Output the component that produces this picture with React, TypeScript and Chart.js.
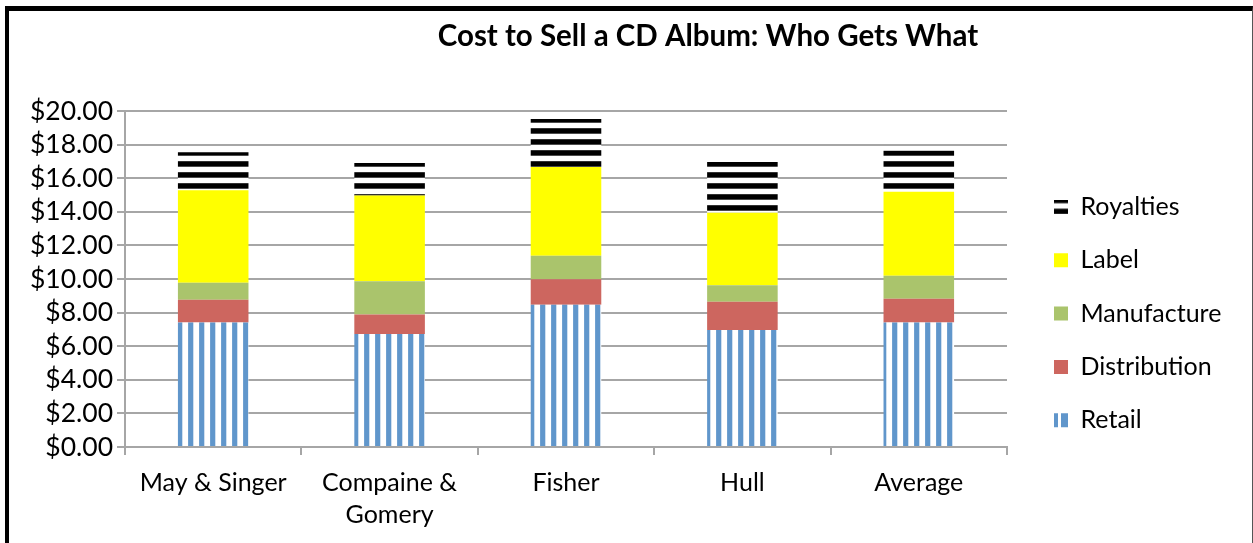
import React, { useEffect, useRef } from 'react';
import { Chart, registerables } from 'chart.js';

Chart.register(...registerables);

// ---- data ----
const categories: (string | string[])[] = ['May & Singer', ['Compaine &', 'Gomery'], 'Fisher', 'Hull', 'Average'];
const seriesNames = ['Retail', 'Distribution', 'Manufacture', 'Label', 'Royalties'];
const retail = [7.41, 6.73, 8.46, 6.97, 7.41];
const distribution = [1.35, 1.15, 1.53, 1.67, 1.41];
const manufacture = [1.01, 1.99, 1.39, 0.99, 1.37];
const label = [5.52, 5.1, 5.28, 4.31, 5.0];
const royalties = [2.25, 1.93, 2.86, 3.02, 2.45];
const yTicks = [0, 2, 4, 6, 8, 10, 12, 14, 16, 18, 20];
const titleText = 'Cost to Sell a CD Album: Who Gets What';

// ---- styles ----
const W = 1253;
const H = 543;
const FONT = 'Lato, sans-serif';
const XTICK_SIZE = 25;
const YTICK_SIZE = 26.5;
const LEGEND_SIZE = 25;
const TITLE_SIZE = 29.5;
const GRID = '#A6A6A6';
const BLUE = '#6096CB';
const LEGEND_PAD = 28.3;
const LEGEND_BOX = 14;
const LEGEND_BOX_X = 1054;
const PLOT_TOP = 111;
const PLOT_BOTTOM = 447;
const PLOT_RIGHT = 1007;
const FIRST_LEGEND_Y = 207;

function stripePattern(kind: 'v' | 'h', phase = 0): CanvasPattern | string {
  const c = document.createElement('canvas');
  c.width = 11;
  c.height = 11;
  const g = c.getContext('2d');
  if (!g) return BLUE;
  g.fillStyle = '#FFFFFF';
  g.fillRect(0, 0, 11, 11);
  if (kind === 'v') {
    g.fillStyle = BLUE;
    g.fillRect(1.1, 0, 5.2, 11);
  } else {
    g.fillStyle = '#000000';
    g.fillRect(0, 7.2, 11, 3.8);
    g.fillRect(0, 0, 11, 1.7);
  }
  const p = g.createPattern(c, 'repeat');
  if (!p) return '#000';
  if (phase && typeof DOMMatrix !== 'undefined') {
    p.setTransform(kind === 'v' ? new DOMMatrix().translate(phase, 0) : new DOMMatrix().translate(0, phase));
  }
  return p;
}

function legendRetailPattern(): CanvasPattern | string {
  const c = document.createElement('canvas');
  c.width = 14;
  c.height = 14;
  const g = c.getContext('2d');
  if (!g) return BLUE;
  g.fillStyle = '#FFFFFF';
  g.fillRect(0, 0, 14, 14);
  g.fillStyle = BLUE;
  g.fillRect(0, 0, 4, 14);
  g.fillRect(7, 0, 7, 14);
  const p = g.createPattern(c, 'repeat');
  if (!p) return BLUE;
  if (typeof DOMMatrix !== 'undefined') p.setTransform(new DOMMatrix().translate(LEGEND_BOX_X % 14, 0));
  return p;
}

const titlePlugin = {
  id: 'placedTitle',
  afterDraw(chart: any) {
    const ctx = chart.ctx;
    ctx.save();
    ctx.font = `bold ${TITLE_SIZE}px ${FONT}`;
    ctx.fillStyle = '#000';
    ctx.textAlign = 'center';
    ctx.textBaseline = 'middle';
    ctx.fillText(titleText, 708, 36);
    ctx.restore();
  },
};

export default function App() {
  const ref = useRef<HTMLCanvasElement | null>(null);

  useEffect(() => {
    const canvas = ref.current;
    if (!canvas) return;

    const m = document.createElement('canvas').getContext('2d')!;
    m.font = `${LEGEND_SIZE}px ${FONT}`;
    const maxText = Math.max(...seriesNames.map((n) => m.measureText(n).width));
    const legendWidth = LEGEND_PAD + LEGEND_BOX + LEGEND_SIZE / 2 + maxText + 10;
    const legendLeft = LEGEND_BOX_X - LEGEND_PAD;
    const padRight = Math.max(0, W - legendLeft - legendWidth);
    const gap = legendLeft - PLOT_RIGHT;

    // vertical placement of the legend column (align: center)
    const itemH = Math.max(LEGEND_SIZE, LEGEND_BOX);
    const colH = seriesNames.length * (itemH + LEGEND_PAD);
    const cursorY = FIRST_LEGEND_Y - itemH / 2;
    const padTop = 2 * cursorY - LEGEND_PAD + colH - H;
    const topGap = PLOT_TOP - padTop;

    const retailPat = stripePattern('v');
    const royPat = stripePattern('h');
    const legendRoyPat = stripePattern('h', 3.5);
    const legendRetPat = legendRetailPattern();

    const chart = new Chart(canvas, {
      type: 'bar',
      data: {
        labels: categories as any,
        datasets: [
          { label: seriesNames[0], data: retail, backgroundColor: retailPat as any, xAxisID: 'x', yAxisID: 'y' },
          { label: seriesNames[1], data: distribution, backgroundColor: '#CD665F', xAxisID: 'x', yAxisID: 'y' },
          { label: seriesNames[2], data: manufacture, backgroundColor: '#AAC46C', xAxisID: 'x', yAxisID: 'y' },
          { label: seriesNames[3], data: label, backgroundColor: '#FFFF00', xAxisID: 'x', yAxisID: 'y' },
          { label: seriesNames[4], data: royalties, backgroundColor: royPat as any, xAxisID: 'x', yAxisID: 'y' },
        ],
      },
      options: {
        responsive: false,
        animation: false,
        devicePixelRatio: 1,
        layout: { padding: { top: padTop, bottom: 0, left: 0, right: padRight } },
        datasets: { bar: { barPercentage: 0.4, categoryPercentage: 1.0, borderWidth: 0 } },
        plugins: {
          title: { display: false },
          tooltip: { enabled: false },
          legend: {
            position: 'right',
            align: 'center',
            reverse: true,
            maxWidth: 400,
            labels: {
              boxWidth: LEGEND_BOX,
              boxHeight: LEGEND_BOX,
              padding: LEGEND_PAD,
              color: '#000',
              font: { family: FONT, size: LEGEND_SIZE },
              generateLabels: (ch: any) => {
                const items = Chart.defaults.plugins.legend.labels.generateLabels(ch);
                return items.map((it: any) => {
                  if (it.text === 'Royalties') return { ...it, fillStyle: legendRoyPat };
                  if (it.text === 'Retail') return { ...it, fillStyle: legendRetPat };
                  return it;
                });
              },
            },
          },
        },
        scales: {
          x: {
            axis: 'x',
            position: 'bottom',
            stacked: true,
            grid: { display: true, drawOnChartArea: false, drawTicks: true, tickLength: 8, color: GRID, lineWidth: 2, offset: true },
            border: { display: true, color: GRID, width: 2 },
            ticks: { color: '#000', font: { family: FONT, size: XTICK_SIZE, lineHeight: 1.28 }, padding: 12, maxRotation: 0, autoSkip: false },
            afterFit: (s: any) => { s.height = H - PLOT_BOTTOM; },
          },
          y: {
            axis: 'y',
            position: 'left',
            stacked: true,
            min: 0,
            max: 20,
            afterBuildTicks: (s: any) => { s.ticks = yTicks.map((v) => ({ value: v })); },
            ticks: { color: '#000', autoSkip: false, font: { family: FONT, size: YTICK_SIZE, lineHeight: 1 }, padding: 4, callback: (v: any) => '$' + Number(v).toFixed(2) },
            grid: { color: GRID, lineWidth: 2, tickLength: 8, drawTicks: true },
            border: { display: true, color: GRID, width: 2 },
            afterFit: (s: any) => { s.width = 125; },
          },
          yR: {
            type: 'linear',
            axis: 'y',
            position: 'right',
            display: true,
            grid: { display: false, drawTicks: false },
            ticks: { display: false },
            border: { display: false },
            afterFit: (s: any) => { s.width = gap; },
          },
          xT: {
            type: 'linear',
            axis: 'x',
            position: 'top',
            display: true,
            grid: { display: false, drawTicks: false },
            ticks: { display: false },
            border: { display: false },
            afterFit: (s: any) => { s.height = topGap; },
          },
        },
      } as any,
      plugins: [titlePlugin],
    });
    return () => chart.destroy();
  }, []);

  return (
    <div>
      <canvas ref={ref} width={W} height={H} style={{ position: 'absolute', left: 0, top: 0, width: W, height: H, display: 'block' }} />
      <div
        style={{
          position: 'absolute',
          left: 5,
          top: 6,
          width: W - 5,
          height: H - 6,
          boxSizing: 'border-box',
          borderLeft: '4px solid #000',
          borderTop: '5px solid #000',
          borderRight: '1px solid #555',
          pointerEvents: 'none',
        }}
      />
    </div>
  );
}
